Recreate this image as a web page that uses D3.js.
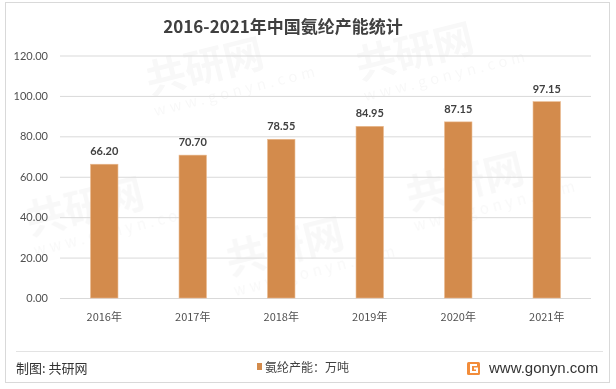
<!DOCTYPE html>
<html><head><meta charset="utf-8">
<script src="https://cdn.jsdelivr.net/npm/d3@7"></script>
<style>body{margin:0;background:#fff}svg{display:block}</style>
</head><body>
<script>
const categories = ["2016年","2017年","2018年","2019年","2020年","2021年"];
const values = [66.20, 70.70, 78.55, 84.95, 87.15, 97.15];
const yTicks = [0,20,40,60,80,100,120];
const title = "2016-2021年中国氨纶产能统计";
const legendLabel = "氨纶产能：万吨";
const sourceLabel = "制图: 共研网";
const siteLabel = "www.gonyn.com";

const W = 616, H = 389;
const svg = d3.select("body").append("svg").attr("width", W).attr("height", H);
const cjk = "'Noto Sans CJK SC','Noto Sans',sans-serif";
const num = "Lato,'Liberation Sans',sans-serif";

// frame
svg.append("rect").attr("x",5.5).attr("y",2.5).attr("width",604).attr("height",380)
  .attr("fill","#fff").attr("stroke","#d9d9d9");

// faint watermarks (kept inside the frame)
const wm = svg.append("g").attr("fill","#000").attr("opacity",0.03).attr("font-family",cjk).attr("font-weight","bold");
[[150,95],[360,80],[30,235],[230,275],[410,210]].forEach(([x,y])=>{
  const g = wm.append("g").attr("transform",`translate(${x},${y}) rotate(-14)`);
  g.append("text").attr("font-size",40).text("共研网");
  g.append("text").attr("y",22).attr("font-size",15).attr("font-weight","normal").attr("letter-spacing",4).text("www.gonyn.com");
});

const x = d3.scaleBand().domain(categories).range([60,591]).paddingInner(0.69).paddingOuter(0.345);
const y = d3.scaleLinear().domain([0,120]).range([298,55.5]);

// grid + y labels
const yAxis = d3.axisLeft(y).tickValues(yTicks).tickSize(-(591-60)).tickFormat(d=>d3.format(".2f")(d)).tickPadding(12);
const ga = svg.append("g").attr("transform","translate(60,0)").call(yAxis);
ga.select(".domain").remove();
ga.selectAll(".tick line").attr("stroke","#d9d9d9").attr("stroke-width",1);
ga.selectAll(".tick text").attr("fill","#505050").attr("font-size",11).attr("font-family",num);

// bars
svg.append("g").selectAll("rect").data(values).join("rect")
  .attr("x",(d,i)=>x(categories[i])).attr("width",x.bandwidth())
  .attr("y",d=>y(d)).attr("height",d=>y(0)-y(d))
  .attr("fill","#D38B4C").attr("stroke","#E9B98F").attr("stroke-width",0.6);

// data labels
svg.append("g").selectAll("text").data(values).join("text")
  .attr("x",(d,i)=>x(categories[i])+x.bandwidth()/2).attr("y",d=>y(d)-9)
  .attr("text-anchor","middle").attr("font-size",11).attr("font-weight","bold")
  .attr("font-family",num).attr("fill","#404040").text(d=>d.toFixed(2));

// x labels
const xAxis = d3.axisBottom(x).tickSize(0).tickPadding(15);
const gx = svg.append("g").attr("transform","translate(0,298)").call(xAxis);
gx.select(".domain").remove();
gx.selectAll(".tick text").attr("fill","#505050").attr("font-size",11).attr("font-family",cjk);

// title
svg.append("text").attr("x",283).attr("y",33).attr("text-anchor","middle")
  .attr("font-size",17).attr("font-weight","bold").attr("font-family",cjk).attr("fill","#404040").text(title);

// footer
svg.append("line").attr("x1",16).attr("x2",603).attr("y1",351.5).attr("y2",351.5).attr("stroke","#e3e3e3");
svg.append("text").attr("x",16).attr("y",373).attr("font-size",13).attr("font-family",cjk).attr("fill","#333").text(sourceLabel);
svg.append("rect").attr("x",257).attr("y",363).attr("width",5).attr("height",7).attr("fill","#D38B4C");
svg.append("text").attr("x",265).attr("y",372).attr("font-size",12).attr("font-family",cjk).attr("fill","#404040").text(legendLabel);
// logo
const lg = svg.append("g").attr("transform","translate(467,362)");
lg.append("rect").attr("width",13).attr("height",13).attr("rx",1.5).attr("fill","#F28C3A");
lg.append("path").attr("d","M10 3 H4 V10 H10 V6.5 H7").attr("fill","none").attr("stroke","#fff").attr("stroke-width",2);
svg.append("text").attr("x",489).attr("y",373).attr("font-size",15).attr("font-family","'Liberation Sans',Arial,sans-serif").attr("fill","#333").text(siteLabel);
</script>
</body></html>
